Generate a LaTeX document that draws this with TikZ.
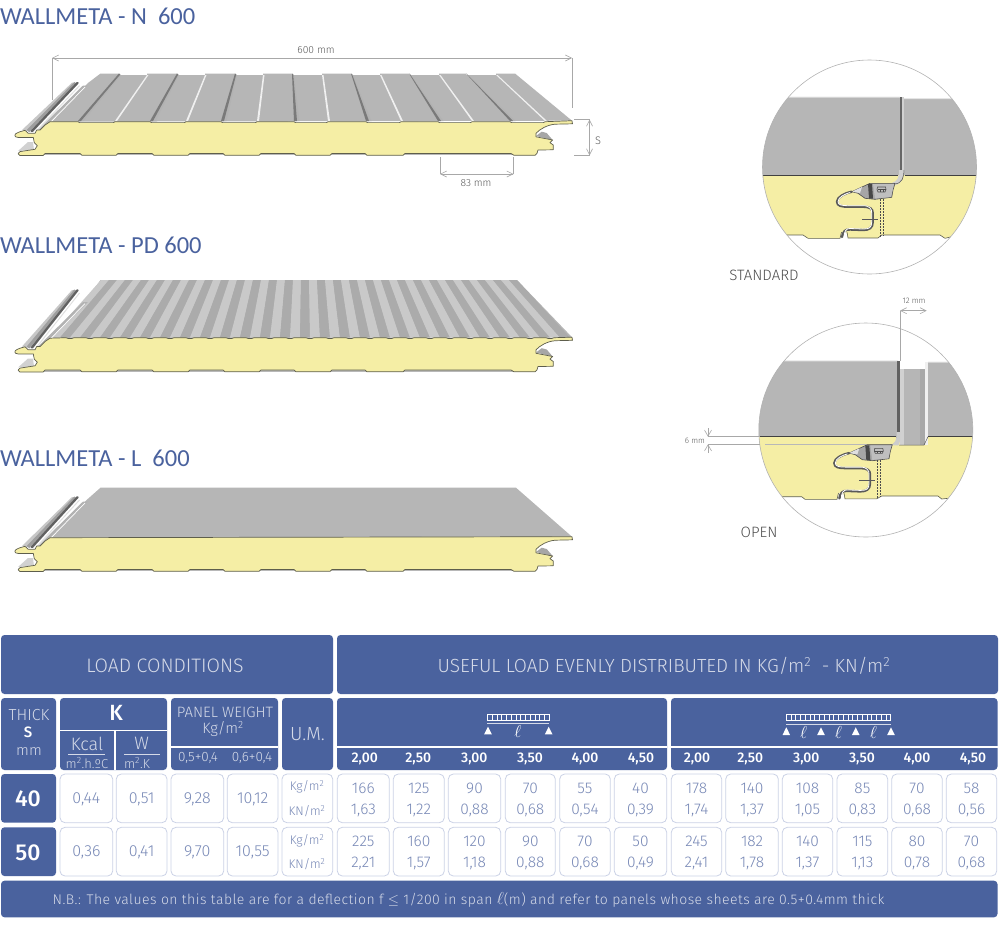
\documentclass[tikz,border=0pt]{standalone}
\usepackage{fontspec}
\setmainfont{Fira Sans}[UprightFont=* Light,BoldFont=* Medium]
\newfontfamily\titlefont{Carlito}
\usetikzlibrary{arrows.meta}
\definecolor{tblue}{HTML}{4A629E}
\definecolor{ttext}{HTML}{7788B6}
\definecolor{tline}{HTML}{CBD2E6}
\definecolor{thead}{HTML}{D5DAE8}
\definecolor{core}{HTML}{F5EEA5}
\definecolor{edge}{HTML}{5E5E4C}
\definecolor{sheet}{HTML}{B6B6B6}
\definecolor{dimc}{HTML}{A8A8A8}
\tikzset{
  txt/.style={inner sep=0pt,outer sep=0pt,anchor=center,align=center},
  bluebox/.style={fill=tblue,rounded corners=3.5pt},
  whitebox/.style={draw=tline,line width=.8pt,fill=white,rounded corners=5pt},
  dimline/.style={draw=dimc,line width=.6pt},
  dimarrow/.style={draw=dimc,line width=.6pt,{Straight Barb[length=6pt,width=6pt]}-{Straight Barb[length=6pt,width=6pt]}},
  coreline/.style={draw=edge,line width=.7pt,fill=core,line join=round},
}
\newcommand{\fs}[1]{\fontsize{#1}{#1}\selectfont}
\newcommand{\thell}{$\ell$}
\newcommand{\panelbody}[5]{%
\begin{scope}[shift={(0,#1)}]
  \fill[sheet] (100.5,#2) -- (#4,#2) -- (572,120.7) -- (50,121.7) -- (86,84.5) -- cycle;
  #5
  % tongue channel
  \fill[white] (79,#3) -- (88,#3+1) -- (50,122) -- (36,132) -- (30,130) -- cycle;
  \fill[black!30] (83,85.5) -- (88,85.5) -- (50,122) -- (42,133) -- (35,133) -- cycle;
  \draw[white,line width=.7pt] (85,87) -- (46,127);
  % rod
  \fill[black!22] (72,#3+1) -- (79,#3+1) -- (33,132) -- (22,130) -- cycle;
  \draw[line width=3.2pt,color=black!38] (75.5,#3+1.5) -- (28,131);
  \draw[line width=2.2pt,color=black!62,line cap=round] (77.5,#3+1.2) -- (32,131);
  \draw[line width=1pt,color=black!12] (79.5,#3+4) -- (36,131.5);
  % notches
  \fill[black!18] (18,151) -- (28,142) -- (33,142) -- (34,150) -- cycle;
  \fill[black!35] (536,136) -- (541.7,131.7) -- (546.7,133) -- (552.7,140) -- cycle;
  \fill[black!28] (43,153) rectangle (514,155.4);
\end{scope}}
\newcommand{\coreprofile}[2]{%
\begin{scope}[shift={(0,#1)}]
  \path[coreline] (50,121.7) #2 -- (572,120.7) -- (572.5,123.8) -- (555,124.2)
   .. controls (547,125) and (540,129) .. (536,133.3) -- (536,136.8) -- (552.7,140)
   -- (550,142.7) -- (553.3,145) -- (553.3,149.8) -- (538,150) -- (537,153.3) -- (535,155.3)
   -- (514,155.3) -- (511,153.5) -- (405,153.5) -- (403,155.3) -- (367,155.3) -- (365,153.5)
   -- (332,153.5) -- (330,155.3) -- (296,155.3) -- (294,153.5)
   -- (261,153.5) -- (259,155.3) -- (225,155.3) -- (223,153.5)
   -- (190,153.5) -- (188,155.3) -- (154,155.3) -- (152,153.5)
   -- (118,153.5) -- (116,155.3) -- (82,155.3) -- (80,153.5)
   -- (45,153.5) -- (43,155.5) -- (20,155.5)
   .. controls (17.5,155.5) and (17.5,151.8) .. (20,151.6) -- (35,149.3) -- (37.3,145.7) -- (34.3,142.7) -- (33.3,137.4) -- (18,137.4)
   .. controls (14,137.4) and (14,134) .. (17,133) -- (20,131.7) -- (25,130.3) -- (28.3,133.3) -- (35,133.3) -- (36.7,130) -- (40,130) -- (45,125) -- cycle;
\end{scope}}
\newcommand{\jointpart}[2]{%
\begin{scope}[shift={(#1,#2)}]
  \path[draw=black!70,line width=.6pt,fill=black!35,line join=round] (851.7,191.7) -- (870,183.3) -- (895,183.3) -- (893,190) -- (891.7,197.3) -- (875,199.3) -- (865,198.3) -- (858,193.3) -- cycle;
  \fill[black!25] (873,184) -- (894,184) -- (891,197) -- (875,198.5) -- cycle;
  \fill[black!72] (868,184) -- (872,184) -- (873,198.5) -- (869,198.5) -- cycle;
  \fill[black!12] (851.7,191.7) -- (862,187) -- (860,193) -- cycle;
  \draw[line width=2.4pt,color=black!65,line join=round,line cap=round] (851.7,191.7) .. controls (845,193) and (837,197) .. (837,201.7) .. controls (837,206) and (842,206.7) .. (848,206.7) -- (863,206.7) .. controls (870,206.7) and (872.7,209) .. (872.7,213) -- (872.7,222) .. controls (872.7,228) and (869,230) .. (863,230) -- (850,229.5) .. controls (845,229) and (843,232) .. (842,237);
  \draw[line width=.8pt,color=white,line join=round,line cap=round] (850,192.5) .. controls (845,194) and (838,197) .. (838,201.7) .. controls (838,205) and (842,205.7) .. (848,205.7) -- (863,205.7) .. controls (870,205.7) and (871.7,209) .. (871.7,213) -- (871.7,222) .. controls (871.7,228) and (869,229) .. (863,229) -- (850,228.5) .. controls (846,228) and (844,232) .. (844,237);
  \draw[line width=1.1pt,color=black!65] (862,219.3) -- (878,219.3);
  \draw[line width=.5pt,color=black!70,dash pattern=on 2pt off 1pt] (880,199) -- (880,236.5) (883.3,199) -- (883.3,236);
  \draw[line width=.6pt,color=black!70,fill=black!25] (877.5,187) -- (885.5,187) -- (886,189.5) -- (885,192) -- (878,192) -- (877,189.5) -- cycle;
  \draw[line width=.4pt,color=black!70] (877.5,189.5) -- (885.5,189.5) (880,189.5) -- (880,192) (883,189.5) -- (883,192);
\end{scope}}
\begin{document}
\begin{tikzpicture}[x=1pt,y=-1pt]
\useasboundingbox (0,0) rectangle (1000,927);
% titles
\node[txt,anchor=west,text=tblue] (tn) at (0,16) {\titlefont\fs{24.5}WALLMETA - N\ \ 600};
\node[txt,anchor=west,text=tblue] (tp) at (0,245) {\titlefont\fs{24.5}WALLMETA - PD 600};
\node[txt,anchor=west,text=tblue] (tl) at (0,458) {\titlefont\fs{24.5}WALLMETA - L\ \ 600};
% ---------- N panel
\panelbody{0}{73.5}{81.7}{515}{%
  \foreach \fd/\bd/\fl/\bl in {78/119/115/147,150/177/186/205,221/235/257/263,294/292/328/322,366/351/401/380,438/409/472/439,510/466/545/496}{
    \fill[white] (\bd,73) rectangle (\bl,75);
    \fill[black!30] (\fd,121) -- (\fd+5.5,121) -- (\bd+2,75) -- (\bd,73.5) -- cycle;
    \fill[black!52] (\fd,121) -- (\fd+3,121) -- (\bd+1.2,74.5) -- (\bd,73.5) -- cycle;
    \fill[black!6] (\fl,121) -- (\fl+2,121) -- (\bl+1.5,75) -- (\bl,75) -- cycle;
  }}
\coreprofile{0}{\foreach \a/\b in {78/115,150/186,221/257,294/328,366/401,438/472,510/545}{ -- (\a,121.7) -- (\a+1.5,122.6) -- (\b-1.5,122.6) -- (\b,121.7)}}
% ---------- PD panel
\panelbody{216.5}{63.5}{72.5}{517}{%
  \foreach \i in {0,...,25}{
    \fill[black!21] ({50+20*\i},121) -- ({60+20*\i},121) -- ({109+16*\i},63.5) -- ({101+16*\i},63.5) -- cycle;
    \fill[black!33] ({60+20*\i},121) -- ({70+20*\i},121) -- ({117+16*\i},63.5) -- ({109+16*\i},63.5) -- cycle;
  }}
\coreprofile{216.5}{\foreach \i in {1,...,25}{ -- ({50+20*\i-4},121.2) .. controls ({50+20*\i-2},122.4) and ({50+20*\i+2},122.4) .. ({50+20*\i+4},121.2)}}
% ---------- L panel
\panelbody{416}{71.7}{80}{516}{}
\coreprofile{416}{}
% ---------- dimensions on N panel
\coordinate (d1a) at (52,58); \coordinate (d1b) at (572,58);
\coordinate (d1ae) at (52,100); \coordinate (d1be) at (572,108);
\draw[dimline] (d1a) -- (d1ae); \draw[dimline] (d1b) -- (d1be);
\draw[dimarrow] (d1a) -- (d1b);
\node[txt,text=black!65] (d1t) at (316,50) {\fs{10.3}600 mm};
\coordinate (d2a) at (589.5,119.5); \coordinate (d2b) at (589.5,155.5);
\coordinate (d2ae) at (574,119.5); \coordinate (d2be) at (574,155.5);
\draw[dimline] (d2ae) -- (d2a); \draw[dimline] (d2be) -- (d2b);
\draw[dimarrow] (d2a) -- (d2b);
\node[txt,text=black!65] (d2t) at (598,141) {\fs{11}S};
\coordinate (d3a) at (440,174); \coordinate (d3b) at (513.5,174);
\coordinate (d3ae) at (440,157); \coordinate (d3be) at (513.5,157);
\draw[dimline] (d3ae) -- (d3a); \draw[dimline] (d3be) -- (d3b);
\draw[dimarrow] (d3a) -- (d3b);
\node[txt,text=black!65] (d3t) at (476,183) {\fs{10.3}83 mm};
% ---------- STANDARD circle
\begin{scope}
  \clip (869.5,167) circle (107);
  \fill[core] (755,175) rectangle (985,240);
  \fill[white] (755,235) -- (803,235) -- (808,238.3) -- (840,238.3) -- (842,232) -- (846,232) -- (848,238) -- (878,238) -- (881.7,235) -- (940,235) -- (945,238.3) -- (951.7,236.7) -- (985,236) -- (985,290) -- (755,290) -- cycle;
  \draw[edge,line width=.6pt] (755,235) -- (803,235) -- (808,238.3) -- (840,238.3) -- (841.5,232) (847,232) -- (848,238) -- (878,238) -- (881.7,235) -- (940,235) -- (945,238.3) -- (951.7,236.7) -- (985,236);
  \fill[sheet] (755,97.3) -- (900,97.3) -- (900,175) -- (755,175) -- cycle;
  \fill[sheet] (904,99) -- (985,99) -- (985,175) -- (904,175) -- cycle;
  \fill[black!10] (755,96.5) rectangle (900,97.5) (904,98.2) rectangle (985,99.2);
  \fill[black!60] (899.5,97.3) rectangle (902,170);
  \fill[black!18] (902,97.3) rectangle (903.6,170);
  \draw[black!75,line width=.7pt] (755,175) -- (898,175) (904.5,175) -- (985,175);
  \fill[black!18] (899,170) .. controls (899,177) and (898,181) .. (892,183) -- (896,185) .. controls (902,183) and (904,178) .. (903.5,170) -- cycle;
  \draw[black!70,line width=.5pt] (895,184) .. controls (902,183) and (904,178) .. (903.8,170);
  \jointpart{0}{0}
\end{scope}
\draw[draw=black!30,line width=.6pt] (869.5,167) circle (107);
\node[txt,text=black!70] (st) at (764,275) {\fs{15}STANDARD};
% ---------- OPEN circle
\begin{scope}
  \clip (865.8,430) circle (107);
  \fill[core] (755,436.7) rectangle (985,500);
  \fill[white] (755,496.7) -- (801.7,496.7) -- (805,499.3) -- (837,499.3) -- (839,493) -- (843,493) -- (845,498.8) -- (876.7,498.8) -- (881.7,496) -- (938,496) -- (941.7,499) -- (948,498.3) -- (985,497.5) -- (985,545) -- (755,545) -- cycle;
  \draw[edge,line width=.6pt] (755,496.7) -- (801.7,496.7) -- (805,499.3) -- (837,499.3) -- (838.5,493) (844,493) -- (845,498.8) -- (876.7,498.8) -- (881.7,496) -- (938,496) -- (941.7,499) -- (948,498.3) -- (985,497.5);
  \draw[black!28,line width=.3pt] (765,444.3) -- (867,444.3);
  \fill[sheet] (755,361) rectangle (898,436.7);
  \fill[sheet] (928,362.3) rectangle (985,436.7);
  \fill[sheet] (900,369) rectangle (926.7,445);
  \fill[black!10] (755,360.3) rectangle (898,361.3) (928,361.6) rectangle (985,362.6);
  \fill[black!62] (897,361) rectangle (900,432);
  \fill[black!18] (900,369) rectangle (904,445);
  \fill[black!34] (920,369) rectangle (925,445);
  \fill[black!6] (925,362) rectangle (927.5,445);
  \draw[black!75,line width=.7pt] (755,436.7) -- (896,436.7) (928,436.7) -- (985,436.7);
  \draw[black!65,line width=.5pt] (896.7,436.7) .. controls (897,442) and (895,445) .. (890,445) (899,445) -- (924,445) -- (928,436.7);
  \fill[black!20] (896.5,432) .. controls (897,440) and (895,444) .. (890,445) -- (898,445.5) .. controls (900,444) and (900.5,440) .. (900,432) -- cycle;
  \jointpart{-2.7}{261.4}
\end{scope}
\draw[draw=black!30,line width=.6pt] (865.8,430) circle (107);
\node[txt,text=black!70] (ot) at (759,532.3) {\fs{15}OPEN};
\coordinate (e1a) at (900,310.7); \coordinate (e1b) at (926.7,310.7);
\coordinate (e1ae) at (900,361); 
\draw[dimline] (e1a) -- (e1ae);
\draw[dimarrow] (e1a) -- (e1b);
\node[txt,text=black!65] (e1t) at (914,301) {\fs{8}12 mm};
\coordinate (e2a) at (708,436.7); \coordinate (e2b) at (708,444.3);
\coordinate (e2ae) at (760,436.7); \coordinate (e2be) at (760,444.3);
\coordinate (e2at) at (708,428); \coordinate (e2bt) at (708,453);
\draw[dimline] (e2a) -- (e2ae); \draw[dimline] (e2b) -- (e2be);
\draw[draw=dimc,line width=.6pt,-{Straight Barb[length=6pt,width=7pt]}] (e2at) -- (e2a);
\draw[draw=dimc,line width=.6pt,-{Straight Barb[length=6pt,width=7pt]}] (e2bt) -- (e2b);
\node[txt,text=black!65] (e2t) at (695,441) {\fs{8}6 mm};
% ---------- TABLE
\fill[bluebox] (1,635) rectangle (333,694);
\fill[bluebox] (337,635) rectangle (998,694);
\node[txt,text=thead] (h1) at (165,666) {\fs{19.5}LOAD CONDITIONS};
\node[txt,text=thead] (h2) at (664,666) {\fs{19}USEFUL LOAD EVENLY DISTRIBUTED IN KG/m\textsuperscript{2}\ \ - KN/m\textsuperscript{2}};
\fill[bluebox] (1,698) rectangle (56,770);
\node[txt,text=thead] (th1) at (29,715) {\fs{16}THICK};
\node[txt,text=white] (th2) at (28,732) {\fs{15}\bfseries S};
\node[txt,text=thead] (th3) at (29,751) {\fs{15}mm};
\fill[bluebox] (60,698) rectangle (167,770);
\fill[white] (60,729.5) rectangle (167,731);
\fill[white] (114,731) rectangle (115.6,770);
\node[txt,text=white] (k) at (116,713) {\fs{22}\bfseries K};
\node[txt,text=thead] (k1) at (87,743.5) {\fs{18}Kcal};
\node[txt,text=thead] (k2) at (141.7,743.5) {\fs{18}W};
\coordinate (k1a) at (68,754.3); \coordinate (k1b) at (105,754.3);
\coordinate (k2a) at (124,754.3); \coordinate (k2b) at (160,754.3);
\draw[thead,line width=.5pt] (k1a) -- (k1b);
\draw[thead,line width=.5pt] (k2a) -- (k2b);
\node[txt,text=thead] (k3) at (87,763) {\fs{13}m\textsuperscript{2}.h.ºC};
\node[txt,text=thead] (k4) at (137,763) {\fs{13}m\textsuperscript{2}.K};
\fill[bluebox] (171,698) rectangle (278,770);
\fill[white] (171,746) rectangle (278,747.5);
\node[txt,text=thead] (w1) at (225,712) {\fs{15}PANEL WEIGHT};
\node[txt,text=thead] (w2) at (223,729) {\fs{15}Kg/m\textsuperscript{2}};
\node[txt,text=thead] (w3) at (198,758) {\fs{13.5}0,5+0,4};
\node[txt,text=thead] (w4) at (252,758) {\fs{13.5}0,6+0,4};
\fill[bluebox] (282,698) rectangle (333,770);
\node[txt,text=thead] (um) at (307.5,734) {\fs{19}U.M.};
\fill[bluebox] (337,698) rectangle (667,770);
\fill[white] (337,746) rectangle (667,747.5);
\fill[bluebox] (671,698) rectangle (997.5,770);
\fill[white] (671,746) rectangle (997.5,747.5);
\foreach \x/\v [count=\i] in {364.7/{2,00},418.3/{2,50},474.3/{3,00},530/{3,50},585/{4,00},641/{4,50},697/{2,00},750.3/{2,50},806.3/{3,00},862/{3,50},917/{4,00},973/{4,50}}
  \node[txt,text=white] (sp\i) at (\x,759) {\fs{14}\bfseries\v};
% beams
\draw[white,line width=.5pt] (487.3,714.3) rectangle (549,720.7);
\foreach \k in {1,...,12} \draw[white,line width=.4pt] ({487.3+\k*4.75},714.3) -- ({487.3+\k*4.75},720.7);
\draw[thead,line width=.5pt] (487.3,723.3) -- (549,723.3);
\foreach \x in {488,548.7} \fill[white] (\x-3.8,734.3) -- (\x+3.8,734.3) -- (\x,726.7) -- cycle;
\node[txt,text=white] (l1) at (518,731.5) {\fs{19}\thell};
\draw[white,line width=.5pt] (786,714.3) rectangle (890.7,720.7);
\foreach \k in {1,...,21} \draw[white,line width=.4pt] ({786+\k*4.76},714.3) -- ({786+\k*4.76},720.7);
\draw[thead,line width=.5pt] (786,724.3) -- (890.7,724.3);
\foreach \x in {786.3,821,855.7,891} \fill[white] (\x-3.8,735) -- (\x+3.8,735) -- (\x,727.3) -- cycle;
\foreach \x [count=\i] in {803.7,838.3,873.3} \node[txt,text=white] (l2\i) at (\x,732.5) {\fs{19}\thell};
% row heads
\fill[bluebox] (1,774) rectangle (56,822.7);
\fill[bluebox] (1,827.3) rectangle (56,876);
\node[txt,text=white] (r40) at (28,799) {\fs{23}\bfseries 40};
\node[txt,text=white] (r50) at (28,852.7) {\fs{23}\bfseries 50};
% single-value cells
\foreach \xa/\xb/\v/\w [count=\i] in {60/112.7/{0,44}/{0,36},116.3/167/{0,51}/{0,41},171/223.7/{9,28}/{9,70},227.3/278/{10,12}/{10,55}}{
  \draw[whitebox] (\xa,774) rectangle (\xb,822.7);
  \draw[whitebox] (\xa,827.3) rectangle (\xb,876);
  \node[txt,text=ttext] (sa\i) at ({(\xa+\xb)/2},799) {\fs{16}\v};
  \node[txt,text=ttext] (sb\i) at ({(\xa+\xb)/2},852.7) {\fs{16}\w};
}
% units
\draw[whitebox] (282,774) rectangle (332.7,822.7);
\draw[whitebox] (282,827.3) rectangle (332.7,876);
\foreach \y/\u [count=\i] in {787/Kg,811/KN,841/Kg,864/KN}
  \node[txt,text=ttext] (un\i) at (307,\y) {\fs{12.5}\u/m\textsuperscript{2}};
% double-value cells
\foreach \xa/\xb/\p/\q/\r/\s [count=\i] in {
 337.3/389.3/166/{1,63}/225/{2,21},393.3/444.3/125/{1,22}/160/{1,57},448.3/500.7/90/{0,88}/120/{1,18},505.3/555.3/70/{0,68}/90/{0,88},559.7/610.3/55/{0,54}/70/{0,68},614.3/666.7/40/{0,39}/50/{0,49},
 671.3/721.7/178/{1,74}/245/{2,41},725.7/778.3/140/{1,37}/182/{1,78},782.3/832.7/108/{1,05}/140/{1,37},837/887.7/85/{0,83}/115/{1,13},891.7/942.3/70/{0,68}/80/{0,78},946.3/996.7/58/{0,56}/70/{0,68}}{
  \draw[whitebox] (\xa,774) rectangle (\xb,822.7);
  \draw[whitebox] (\xa,827.3) rectangle (\xb,876);
  \node[txt,text=ttext] (ca\i) at ({(\xa+\xb)/2},788.3) {\fs{15.5}\p};
  \node[txt,text=ttext] (cb\i) at ({(\xa+\xb)/2},810.3) {\fs{15.5}\q};
  \node[txt,text=ttext] (cc\i) at ({(\xa+\xb)/2},841.7) {\fs{15.5}\r};
  \node[txt,text=ttext] (cd\i) at ({(\xa+\xb)/2},863.7) {\fs{15.5}\s};
}
% note
\fill[bluebox] (1,880.7) rectangle (997.5,917.3);
\node[txt,text=thead] (nb) at (468.5,899.5) {\addfontfeatures{LetterSpace=3.2}\fs{14}N.B.: The values on this table are for a deflection f $\leq$ 1/200 in span {\fs{18}\thell}(m) and refer to panels whose sheets are 0.5+0.4mm thick};
\end{tikzpicture}
\end{document}
